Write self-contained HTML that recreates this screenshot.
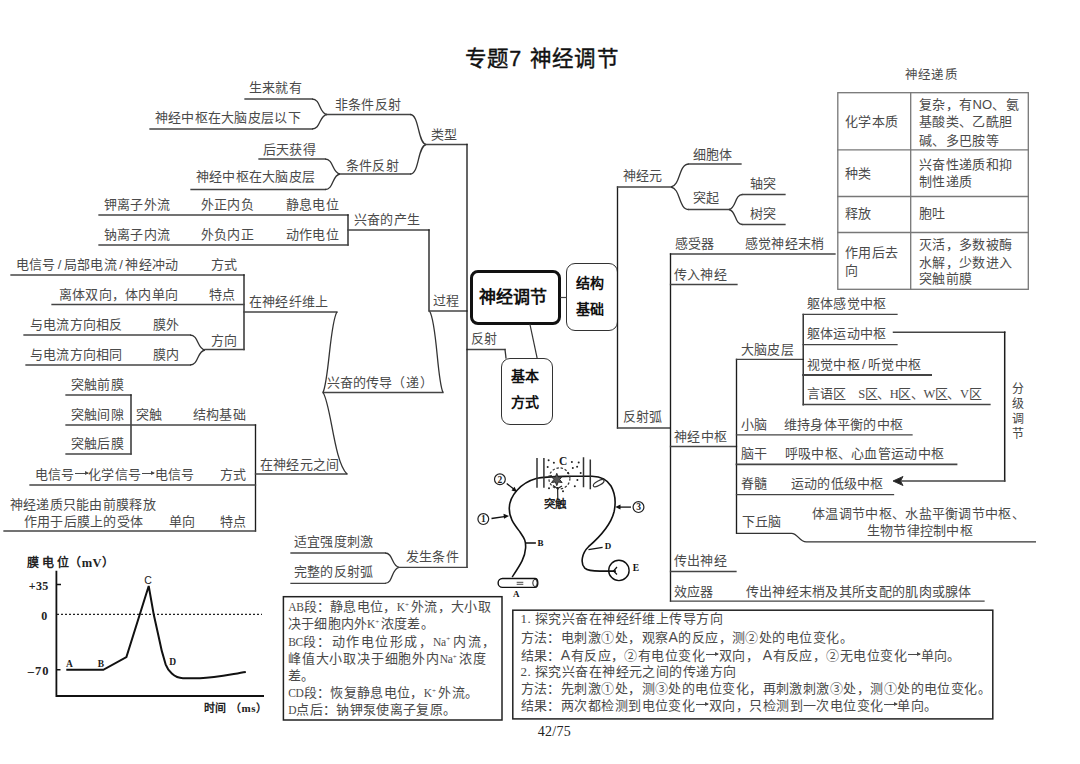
<!DOCTYPE html>
<html lang="zh-CN"><head><meta charset="utf-8"><title>专题7 神经调节</title>
<style>
html,body{margin:0;padding:0;background:#fff}
body{width:1080px;height:764px;overflow:hidden;position:relative;font-family:"Liberation Sans",sans-serif;text-spacing-trim:space-all;font-kerning:none}
.t{position:absolute;white-space:nowrap;line-height:1;color:#4a4a4a;letter-spacing:0.3px}
.sl{margin:0 2.2px}
.sa{font-family:'Liberation Sans',sans-serif;font-weight:normal;font-size:14px}
.ar{display:inline-block;width:12.5px;height:1px;background:currentColor;position:relative;vertical-align:0.33em;margin:0 0.5px}
.ar:after{content:'';position:absolute;right:-1px;top:-2px;border-left:4.5px solid currentColor;border-top:2.5px solid transparent;border-bottom:2.5px solid transparent}
.t sup{font-size:0.55em;vertical-align:0;position:relative;top:-0.6em;margin-right:0.25em;margin-left:0.05em}
.ls{font-style:normal;font-family:'Liberation Serif',serif;font-size:12.5px}
.lt{font-style:normal;font-size:11.5px;letter-spacing:-0.3px}
svg{position:absolute;left:0;top:0}
.box{position:absolute;background:#fff;box-sizing:border-box}
.nb{position:absolute;box-sizing:border-box;font-weight:bold;color:#111;text-align:center}
</style></head><body>

<div class="box" style="left:470px;top:270px;width:91px;height:55px;border:3px solid #111;border-radius:8px"></div>
<div class="box" style="left:566px;top:263px;width:51.5px;height:68px;border:1.3px solid #333;border-radius:9px"></div>
<div class="box" style="left:501px;top:357.5px;width:52px;height:67px;border:1.3px solid #333;border-radius:9px"></div>
<svg width="1080" height="764" viewBox="0 0 1080 764"><line x1="245" y1="99" x2="312" y2="99" stroke="#444" stroke-width="1.3" stroke-linecap="square"/><path d="M312,99 C321.00,99 318.75,113.26 327,114.5" fill="none" stroke="#333" stroke-width="1.3" /><line x1="150" y1="129" x2="312" y2="129" stroke="#444" stroke-width="1.3" stroke-linecap="square"/><path d="M312,129 C321.00,129 318.75,115.66 327,114.5" fill="none" stroke="#333" stroke-width="1.3" /><line x1="327" y1="114.5" x2="410" y2="114.5" stroke="#444" stroke-width="1.3" stroke-linecap="square"/><path d="M410,114.5 C419.60,114.5 417.20,142.10 426,144.5" fill="none" stroke="#333" stroke-width="1.3" /><line x1="259" y1="159" x2="325" y2="159" stroke="#444" stroke-width="1.3" stroke-linecap="square"/><path d="M325,159 C334.00,159 331.75,172.80 340,174" fill="none" stroke="#333" stroke-width="1.3" /><line x1="191" y1="189.5" x2="325" y2="189.5" stroke="#444" stroke-width="1.3" stroke-linecap="square"/><path d="M325,189.5 C334.00,189.5 331.75,175.24 340,174" fill="none" stroke="#333" stroke-width="1.3" /><line x1="340" y1="174" x2="410" y2="174" stroke="#444" stroke-width="1.3" stroke-linecap="square"/><path d="M410,174 C419.60,174 417.20,146.86 426,144.5" fill="none" stroke="#333" stroke-width="1.3" /><line x1="426" y1="144.5" x2="467" y2="144.5" stroke="#444" stroke-width="1.3" stroke-linecap="square"/><line x1="99" y1="215" x2="348" y2="215" stroke="#444" stroke-width="1.3" stroke-linecap="square"/><line x1="348" y1="215" x2="348" y2="245" stroke="#1c1c1c" stroke-width="1.35" stroke-linecap="square"/><line x1="348" y1="245" x2="99" y2="245" stroke="#444" stroke-width="1.3" stroke-linecap="square"/><line x1="348" y1="230" x2="429" y2="230" stroke="#444" stroke-width="1.3" stroke-linecap="square"/><line x1="429" y1="230" x2="429" y2="311" stroke="#1c1c1c" stroke-width="1.35" stroke-linecap="square"/><line x1="11" y1="275" x2="244" y2="275" stroke="#444" stroke-width="1.3" stroke-linecap="square"/><line x1="244" y1="275" x2="244" y2="349.5" stroke="#1c1c1c" stroke-width="1.35" stroke-linecap="square"/><line x1="52" y1="304.5" x2="244" y2="304.5" stroke="#444" stroke-width="1.3" stroke-linecap="square"/><line x1="244" y1="312" x2="337" y2="312" stroke="#444" stroke-width="1.3" stroke-linecap="square"/><line x1="24" y1="335" x2="190" y2="335" stroke="#444" stroke-width="1.3" stroke-linecap="square"/><path d="M190,335 C199.00,335 196.75,348.80 205,350" fill="none" stroke="#333" stroke-width="1.3" /><line x1="26" y1="365" x2="190" y2="365" stroke="#444" stroke-width="1.3" stroke-linecap="square"/><path d="M190,365 C199.00,365 196.75,351.20 205,350" fill="none" stroke="#333" stroke-width="1.3" /><line x1="205" y1="349.5" x2="244" y2="349.5" stroke="#444" stroke-width="1.3" stroke-linecap="square"/><line x1="66" y1="395" x2="131" y2="395" stroke="#444" stroke-width="1.3" stroke-linecap="square"/><line x1="131" y1="395" x2="131" y2="454" stroke="#1c1c1c" stroke-width="1.35" stroke-linecap="square"/><line x1="131" y1="454" x2="66" y2="454" stroke="#444" stroke-width="1.3" stroke-linecap="square"/><line x1="66" y1="425" x2="255.5" y2="425" stroke="#444" stroke-width="1.3" stroke-linecap="square"/><line x1="255.5" y1="425" x2="255.5" y2="531" stroke="#1c1c1c" stroke-width="1.35" stroke-linecap="square"/><line x1="255.5" y1="531" x2="4" y2="531" stroke="#444" stroke-width="1.3" stroke-linecap="square"/><line x1="30" y1="485" x2="255.5" y2="485" stroke="#444" stroke-width="1.3" stroke-linecap="square"/><line x1="255.5" y1="474" x2="347" y2="474" stroke="#444" stroke-width="1.3" stroke-linecap="square"/><line x1="323" y1="392.5" x2="443" y2="392.5" stroke="#444" stroke-width="1.3" stroke-linecap="square"/><path d="M337,312 C330,322 329,380 323,392.5" fill="none" stroke="#333" stroke-width="1.3" /><path d="M323,392.5 C331,404 334,462 347,474" fill="none" stroke="#333" stroke-width="1.3" /><path d="M429.5,311 C437,322 437,380 443,392.5" fill="none" stroke="#333" stroke-width="1.3" /><line x1="429.5" y1="311" x2="467" y2="311" stroke="#444" stroke-width="1.3" stroke-linecap="square"/><line x1="467" y1="349.5" x2="505" y2="349.5" stroke="#444" stroke-width="1.3" stroke-linecap="square"/><line x1="505" y1="349.5" x2="506" y2="358" stroke="#333" stroke-width="1.3" stroke-linecap="square"/><line x1="467" y1="144.5" x2="467" y2="567.3" stroke="#1c1c1c" stroke-width="1.35" stroke-linecap="square"/><line x1="291" y1="553" x2="385" y2="553" stroke="#444" stroke-width="1.3" stroke-linecap="square"/><path d="M385,553 C393.40,553 391.30,566.16 399,567.3" fill="none" stroke="#333" stroke-width="1.3" /><line x1="291" y1="583.3" x2="385" y2="583.3" stroke="#444" stroke-width="1.3" stroke-linecap="square"/><path d="M385,583.3 C393.40,583.3 391.30,568.58 399,567.3" fill="none" stroke="#333" stroke-width="1.3" /><line x1="399" y1="567.3" x2="467" y2="567.3" stroke="#444" stroke-width="1.3" stroke-linecap="square"/><line x1="530" y1="324.5" x2="537" y2="357.5" stroke="#333" stroke-width="1.2" stroke-linecap="square"/><line x1="561" y1="297.5" x2="566" y2="297.5" stroke="#444" stroke-width="1.2" stroke-linecap="square"/><line x1="617.5" y1="187" x2="617.5" y2="428" stroke="#1c1c1c" stroke-width="1.35" stroke-linecap="square"/><line x1="617.5" y1="428" x2="670" y2="428" stroke="#444" stroke-width="1.3" stroke-linecap="square"/><line x1="617.5" y1="187" x2="671" y2="187" stroke="#444" stroke-width="1.3" stroke-linecap="square"/><path d="M689,164 C678.20,164 680.90,185.16 671,187" fill="none" stroke="#333" stroke-width="1.3" /><line x1="689" y1="164" x2="741" y2="164" stroke="#444" stroke-width="1.3" stroke-linecap="square"/><path d="M689,209.5 C678.20,209.5 680.90,188.80 671,187" fill="none" stroke="#333" stroke-width="1.3" /><line x1="689" y1="209.5" x2="729" y2="209.5" stroke="#444" stroke-width="1.3" stroke-linecap="square"/><path d="M742.5,194.5 C734.40,194.5 736.42,208.30 729,209.5" fill="none" stroke="#333" stroke-width="1.3" /><line x1="742.5" y1="194.5" x2="785" y2="194.5" stroke="#444" stroke-width="1.3" stroke-linecap="square"/><path d="M742.5,224.5 C734.40,224.5 736.42,210.70 729,209.5" fill="none" stroke="#333" stroke-width="1.3" /><line x1="742.5" y1="224.5" x2="785" y2="224.5" stroke="#444" stroke-width="1.3" stroke-linecap="square"/><line x1="670.5" y1="254" x2="835" y2="254" stroke="#444" stroke-width="1.3" stroke-linecap="square"/><line x1="670.5" y1="254" x2="670.5" y2="601" stroke="#1c1c1c" stroke-width="1.35" stroke-linecap="square"/><line x1="670.5" y1="284.5" x2="737" y2="284.5" stroke="#444" stroke-width="1.3" stroke-linecap="square"/><line x1="670.5" y1="446.5" x2="736.5" y2="446.5" stroke="#444" stroke-width="1.3" stroke-linecap="square"/><line x1="736.5" y1="359.4" x2="736.5" y2="533.3" stroke="#1c1c1c" stroke-width="1.35" stroke-linecap="square"/><line x1="736.5" y1="359.4" x2="803.2" y2="359.4" stroke="#444" stroke-width="1.3" stroke-linecap="square"/><line x1="803.2" y1="314.4" x2="803.2" y2="404.7" stroke="#1c1c1c" stroke-width="1.35" stroke-linecap="square"/><line x1="803.2" y1="314.4" x2="897" y2="314.4" stroke="#444" stroke-width="1.3" stroke-linecap="square"/><line x1="803.2" y1="344.6" x2="897" y2="344.6" stroke="#444" stroke-width="1.3" stroke-linecap="square"/><line x1="803.2" y1="375" x2="931" y2="375" stroke="#444" stroke-width="2" stroke-linecap="square"/><line x1="803.2" y1="404.5" x2="990" y2="404.5" stroke="#444" stroke-width="1.3" stroke-linecap="square"/><line x1="736.5" y1="434.8" x2="912" y2="434.8" stroke="#444" stroke-width="1.3" stroke-linecap="square"/><line x1="736.5" y1="464.4" x2="956.5" y2="464.4" stroke="#444" stroke-width="1.8" stroke-linecap="square"/><line x1="736.5" y1="494.6" x2="893.5" y2="494.6" stroke="#444" stroke-width="1.3" stroke-linecap="square"/><path d="M736.5,533.3 L791.5,533.3 C798,533.3 799,541.9 806.3,541.9 L1036,541.9" fill="none" stroke="#333" stroke-width="1.3" /><line x1="670.5" y1="571.5" x2="736" y2="571.5" stroke="#444" stroke-width="1.3" stroke-linecap="square"/><line x1="670.5" y1="601.2" x2="984" y2="601.2" stroke="#444" stroke-width="1.3" stroke-linecap="square"/><line x1="893.5" y1="332.2" x2="1004.7" y2="332.2" stroke="#444" stroke-width="1.5" stroke-linecap="square"/><line x1="1004.7" y1="332.2" x2="1004.7" y2="481" stroke="#1c1c1c" stroke-width="1.5" stroke-linecap="square"/><line x1="1004.7" y1="481" x2="895" y2="481" stroke="#444" stroke-width="1.5" stroke-linecap="square"/><path d="M893,481 L903,476.5 L900.5,481 L903,485.5 Z" fill="#222" stroke="#333" stroke-width="1" /><rect x="837.8" y="92.7" width="190.5" height="196.6" fill="none" stroke="#777" stroke-width="1.3"/><line x1="910.7" y1="92.7" x2="910.7" y2="289.3" stroke="#777" stroke-width="1.3" stroke-linecap="square"/><line x1="837.8" y1="149.8" x2="1028.3" y2="149.8" stroke="#777" stroke-width="1.3" stroke-linecap="square"/><line x1="837.8" y1="196.5" x2="1028.3" y2="196.5" stroke="#777" stroke-width="1.3" stroke-linecap="square"/><line x1="837.8" y1="232.5" x2="1028.3" y2="232.5" stroke="#777" stroke-width="1.3" stroke-linecap="square"/><rect x="283.4" y="596.7" width="218.6" height="123.3" fill="none" stroke="#222" stroke-width="1.5"/><rect x="512.8" y="610.2" width="480" height="108.7" fill="none" stroke="#222" stroke-width="1.5"/><path d="M56.4,570.7 L56.4,696 L264,696" fill="none" stroke="#111" stroke-width="1.8"/><path d="M56.4,584.6 L61,584.6 M56.4,669.8 L60.5,669.8" stroke="#111" stroke-width="1.5"/><path d="M57,614.4 L262,614.4" stroke="#222" stroke-width="1.1" stroke-dasharray="2,2"/><path d="M66.3,669.8 L103.3,669.8 L126.4,657 L148.7,586 L153.8,614.8 L158.5,636 C160,644 162,653 165.6,664.3 C168,670.5 174,678.2 183,678.2 L200,678.2 C215,678 230,674.5 245.8,672" fill="none" stroke="#111" stroke-width="2"/><path d="M512.2,577 C520,565 525,558 525.6,548 C526,540 524,538 520,532 C514,524 509,518 509.3,508 C509.5,496 520,483 537,478.3 C545,476.5 560,476.5 571,476.2 L591.9,476.2 C600,476.5 607,479 611,486 C615.5,494 616,503 614,512 C611,524 602,535 588.5,546.7 C582,553 580,563 584.8,568.1 C588,571 593,571.1 600,571.1 L615.9,571.1" fill="none" stroke="#111" stroke-width="1.6"/><path d="M537,457.9 L537,487.7 M543.9,457.9 L543.9,487.7 M583.5,457.3 L583.5,487.2 M590.3,459.4 L590.3,489.3" stroke="#333" stroke-width="1.5"/><circle cx="559.4" cy="478.4" r="10.5" fill="none" stroke="#333" stroke-width="1.2" stroke-dasharray="2.4,1.8"/><path d="M556.80,473.30 L558.25,476.99 L562.17,476.40 L559.70,479.50 L562.17,482.60 L558.25,482.01 L556.80,485.70 L555.35,482.01 L551.43,482.60 L553.90,479.50 L551.43,476.40 L555.35,476.99 Z" fill="#555" stroke="#222" stroke-width="0.9"/><path d="M557.6,487 L557.8,499 M553,485.5 L557.6,488.5 L562,486" fill="none" stroke="#222" stroke-width="1.2"/><circle cx="548.6" cy="460.2" r="1" fill="#222"/><circle cx="553.9" cy="462.8" r="1" fill="#222"/><circle cx="547.7" cy="467" r="1" fill="#222"/><circle cx="571.9" cy="462.1" r="1" fill="#222"/><circle cx="578.7" cy="462.5" r="1" fill="#222"/><circle cx="577.1" cy="466.7" r="1" fill="#222"/><circle cx="572.8" cy="468" r="1" fill="#222"/><circle cx="580.7" cy="472.9" r="1" fill="#222"/><circle cx="577.4" cy="480.1" r="1" fill="#222"/><circle cx="574.8" cy="486.3" r="1" fill="#222"/><circle cx="549" cy="488.3" r="1" fill="#222"/><circle cx="563" cy="491.2" r="1" fill="#222"/><circle cx="568" cy="473" r="1" fill="#222"/><circle cx="551" cy="476" r="1" fill="#222"/><ellipse cx="598.7" cy="483.2" rx="6" ry="2.2" transform="rotate(-30 598.7 483.2)" fill="none" stroke="#333" stroke-width="1.2"/><circle cx="499.9" cy="479.3" r="5.4" fill="none" stroke="#222" stroke-width="1.2"/><text x="499.9" y="482.6" font-size="9.5" text-anchor="middle" font-family="Liberation Serif" font-weight="bold" fill="#222">2</text><circle cx="483.3" cy="519.1" r="5.4" fill="none" stroke="#222" stroke-width="1.2"/><text x="483.3" y="522.4" font-size="9.5" text-anchor="middle" font-family="Liberation Serif" font-weight="bold" fill="#222">1</text><circle cx="638.5" cy="507.1" r="5.4" fill="none" stroke="#222" stroke-width="1.2"/><text x="638.5" y="510.40000000000003" font-size="9.5" text-anchor="middle" font-family="Liberation Serif" font-weight="bold" fill="#222">3</text><path d="M506.7,483.5 L515,490" stroke="#111" stroke-width="1.3"/><path d="M517,492 L511.5,490.5 L514.5,486.8 Z" fill="#111"/><path d="M491.5,518.5 L506,516.3" stroke="#111" stroke-width="1.3"/><path d="M509,516 L504,518.8 L503.5,513.8 Z" fill="#111"/><path d="M631,507.1 L618,507.1" stroke="#111" stroke-width="1.3"/><path d="M615.3,507.1 L620.5,504.6 L620.5,509.6 Z" fill="#111"/><path d="M525.6,543 L535.9,543 M588.5,549.6 L602.6,547.4" stroke="#111" stroke-width="1.3"/><circle cx="618.9" cy="570.4" r="10.2" fill="none" stroke="#111" stroke-width="1.4"/><path d="M617,567 L613.5,571 L617,574.5" fill="none" stroke="#111" stroke-width="1.2"/><path d="M502.5,578.5 L535,578.5 A2.8,4.45 0 0 1 535,587.4 L502.5,587.4 A4.4,4.45 0 0 1 502.5,578.5 Z" fill="#fff" stroke="#111" stroke-width="1.4"/><ellipse cx="535" cy="582.95" rx="2.2" ry="3.6" fill="none" stroke="#222" stroke-width="1"/><path d="M516.7,582.3 L523.3,582.3 M516.7,584.3 L523.3,584.3" stroke="#333" stroke-width="0.9"/></svg>
<div class="t" style="left:478.5px;top:288.5px;font-size:17px;font-weight:bold;color:#111">神经调节</div>
<div class="t" style="left:575.5px;top:275.5px;font-size:14px;font-weight:bold;color:#111">结构</div>
<div class="t" style="left:575.5px;top:302px;font-size:14px;font-weight:bold;color:#111">基础</div>
<div class="t" style="left:510.5px;top:368.5px;font-size:14px;font-weight:bold;color:#111">基本</div>
<div class="t" style="left:510.5px;top:394.5px;font-size:14px;font-weight:bold;color:#111">方式</div>
<div class="t" style="left:464.7px;top:49.2px;font-size:21.5px;font-weight:400;color:#111;-webkit-text-stroke:0.4px #111">专题7</div>
<div class="t" style="left:529.9px;top:49.2px;font-size:21.5px;font-weight:400;color:#111;-webkit-text-stroke:0.4px #111">神经调节</div>
<div class="t" style="left:248.7px;top:81.2px;font-size:13px;">生来就有</div>
<div class="t" style="left:154.7px;top:111.2px;font-size:13px;">神经中枢在大脑皮层以下</div>
<div class="t" style="left:334.7px;top:97.7px;font-size:13px;">非条件反射</div>
<div class="t" style="left:262.7px;top:142.7px;font-size:13px;">后天获得</div>
<div class="t" style="left:195.7px;top:169.7px;font-size:13px;">神经中枢在大脑皮层</div>
<div class="t" style="left:345.7px;top:158.7px;font-size:13px;">条件反射</div>
<div class="t" style="left:430.7px;top:127.7px;font-size:13px;">类型</div>
<div class="t" style="left:103.7px;top:197.7px;font-size:13px;">钾离子外流</div>
<div class="t" style="left:200.7px;top:197.7px;font-size:13px;">外正内负</div>
<div class="t" style="left:285.7px;top:197.7px;font-size:13px;">静息电位</div>
<div class="t" style="left:103.7px;top:227.7px;font-size:13px;">钠离子内流</div>
<div class="t" style="left:200.7px;top:227.7px;font-size:13px;">外负内正</div>
<div class="t" style="left:285.7px;top:227.7px;font-size:13px;">动作电位</div>
<div class="t" style="left:353.7px;top:212.7px;font-size:13px;">兴奋的产生</div>
<div class="t" style="left:15.7px;top:257.7px;font-size:13px;">电信号<span class=sl>/</span>局部电流<span class=sl>/</span>神经冲动</div>
<div class="t" style="left:210.7px;top:257.7px;font-size:13px;">方式</div>
<div class="t" style="left:58.7px;top:287.7px;font-size:13px;">离体双向，体内单向</div>
<div class="t" style="left:208.7px;top:287.7px;font-size:13px;">特点</div>
<div class="t" style="left:248.7px;top:295.2px;font-size:13px;">在神经纤维上</div>
<div class="t" style="left:29.7px;top:317.7px;font-size:13px;">与电流方向相反</div>
<div class="t" style="left:152.7px;top:317.7px;font-size:13px;">膜外</div>
<div class="t" style="left:29.7px;top:347.7px;font-size:13px;">与电流方向相同</div>
<div class="t" style="left:152.7px;top:347.7px;font-size:13px;">膜内</div>
<div class="t" style="left:210.7px;top:334.2px;font-size:13px;">方向</div>
<div class="t" style="left:70.7px;top:377.7px;font-size:13px;">突触前膜</div>
<div class="t" style="left:70.7px;top:407.7px;font-size:13px;">突触间隙</div>
<div class="t" style="left:135.7px;top:407.7px;font-size:13px;">突触</div>
<div class="t" style="left:192.7px;top:407.7px;font-size:13px;">结构基础</div>
<div class="t" style="left:70.7px;top:436.7px;font-size:13px;">突触后膜</div>
<div class="t" style="left:34.7px;top:467.7px;font-size:13px;">电信号<span class=ar></span>化学信号<span class=ar></span>电信号</div>
<div class="t" style="left:219.7px;top:467.7px;font-size:13px;">方式</div>
<div class="t" style="left:9.7px;top:497.7px;font-size:13px;">神经递质只能由前膜释放</div>
<div class="t" style="left:23.7px;top:515.2px;font-size:13px;">作用于后膜上的受体</div>
<div class="t" style="left:168.7px;top:515.2px;font-size:13px;">单向</div>
<div class="t" style="left:219.7px;top:515.2px;font-size:13px;">特点</div>
<div class="t" style="left:259.7px;top:458.2px;font-size:13px;">在神经元之间</div>
<div class="t" style="left:326.7px;top:375.7px;font-size:13px;letter-spacing:0.1px">兴奋的传导</div>
<div class="t" style="left:391.7px;top:375.7px;font-size:13px;letter-spacing:1.2px">（递）</div>
<div class="t" style="left:432.7px;top:294.2px;font-size:13px;">过程</div>
<div class="t" style="left:470.7px;top:331.7px;font-size:13px;">反射</div>
<div class="t" style="left:293.7px;top:535.2px;font-size:13px;">适宜强度刺激</div>
<div class="t" style="left:293.7px;top:565.2px;font-size:13px;">完整的反射弧</div>
<div class="t" style="left:405.7px;top:550.2px;font-size:13px;">发生条件</div>
<div class="t" style="left:622.7px;top:168.7px;font-size:13px;">神经元</div>
<div class="t" style="left:692.7px;top:147.7px;font-size:13px;">细胞体</div>
<div class="t" style="left:692.7px;top:191.2px;font-size:13px;">突起</div>
<div class="t" style="left:749.7px;top:176.7px;font-size:13px;">轴突</div>
<div class="t" style="left:749.7px;top:206.7px;font-size:13px;">树突</div>
<div class="t" style="left:674.7px;top:236.7px;font-size:13px;">感受器</div>
<div class="t" style="left:744.7px;top:236.7px;font-size:13px;">感觉神经末梢</div>
<div class="t" style="left:673.7px;top:267.7px;font-size:13px;">传入神经</div>
<div class="t" style="left:622.7px;top:410.2px;font-size:13px;">反射弧</div>
<div class="t" style="left:674.2px;top:430.2px;font-size:13px;">神经中枢</div>
<div class="t" style="left:740.7px;top:342.7px;font-size:13px;">大脑皮层</div>
<div class="t" style="left:806.7px;top:296.7px;font-size:13px;">躯体感觉中枢</div>
<div class="t" style="left:806.7px;top:327.2px;font-size:13px;">躯体运动中枢</div>
<div class="t" style="left:806.7px;top:358.2px;font-size:13px;">视觉中枢<span class=sl>/</span>听觉中枢</div>
<div class="t" style="left:806.7px;top:387.2px;font-size:13px;">言语区</div>
<div class="t" style="left:858.2px;top:387.2px;font-size:13px;letter-spacing:-0.45px"><i class=ls>S</i>区、<i class=ls>H</i>区、<i class=ls>W</i>区、<i class=ls>V</i>区</div>
<div class="t" style="left:740.7px;top:418.2px;font-size:13px;">小脑</div>
<div class="t" style="left:783.7px;top:418.2px;font-size:13px;">维持身体平衡的中枢</div>
<div class="t" style="left:740.7px;top:447.2px;font-size:13px;">脑干</div>
<div class="t" style="left:784.7px;top:447.2px;font-size:13px;">呼吸中枢、心血管运动中枢</div>
<div class="t" style="left:740.7px;top:477.2px;font-size:13px;">脊髓</div>
<div class="t" style="left:790.7px;top:477.2px;font-size:13px;">运动的低级中枢</div>
<div class="t" style="left:741.7px;top:514.7px;font-size:13px;">下丘脑</div>
<div class="t" style="left:812.2px;top:506.7px;font-size:13px;">体温调节中枢、水盐平衡调节中枢、</div>
<div class="t" style="left:866.7px;top:524.2px;font-size:13px;">生物节律控制中枢</div>
<div class="t" style="left:673.7px;top:553.7px;font-size:13px;">传出神经</div>
<div class="t" style="left:673.7px;top:584.7px;font-size:13px;">效应器</div>
<div class="t" style="left:745.7px;top:584.7px;font-size:13px;">传出神经末梢及其所支配的肌肉或腺体</div>
<div class="t" style="left:1011.7px;top:382.7px;font-size:12px;color:#444">分</div>
<div class="t" style="left:1011.7px;top:397.7px;font-size:12px;color:#444">级</div>
<div class="t" style="left:1011.7px;top:412.7px;font-size:12px;color:#444">调</div>
<div class="t" style="left:1011.7px;top:427.7px;font-size:12px;color:#444">节</div>
<div class="t" style="left:904.7px;top:69.0px;font-size:12.5px;">神经递质</div>
<div class="t" style="left:845.2px;top:115.2px;font-size:13px;">化学本质</div>
<div class="t" style="left:919.2px;top:97.7px;font-size:13px;">复杂，有NO、氨</div>
<div class="t" style="left:919.2px;top:115.2px;font-size:13px;">基酸类、乙酰胆</div>
<div class="t" style="left:919.2px;top:133.7px;font-size:13px;">碱、多巴胺等</div>
<div class="t" style="left:845.2px;top:166.7px;font-size:13px;">种类</div>
<div class="t" style="left:919.2px;top:158.2px;font-size:13px;">兴奋性递质和抑</div>
<div class="t" style="left:919.2px;top:174.7px;font-size:13px;">制性递质</div>
<div class="t" style="left:845.2px;top:207.2px;font-size:13px;">释放</div>
<div class="t" style="left:919.2px;top:207.2px;font-size:13px;">胞吐</div>
<div class="t" style="left:845.2px;top:246.2px;font-size:13px;">作用后去</div>
<div class="t" style="left:845.2px;top:263.7px;font-size:13px;">向</div>
<div class="t" style="left:919.2px;top:238.2px;font-size:13px;">灭活，多数被酶</div>
<div class="t" style="left:919.2px;top:255.7px;font-size:13px;">水解，少数进入</div>
<div class="t" style="left:919.2px;top:271.7px;font-size:13px;">突触前膜</div>
<div class="t" style="left:288.2px;top:600.2px;font-size:13px;font-family:'Liberation Serif',serif;letter-spacing:0.3px"><i class=lt>AB</i>段：静息电位，<i class=lt>K</i><sup>+</sup>外流，大小取</div>
<div class="t" style="left:288.2px;top:617.4px;font-size:13px;font-family:'Liberation Serif',serif;letter-spacing:0.12px">决于细胞内外<i class=lt>K</i><sup>+</sup>浓度差。</div>
<div class="t" style="left:288.2px;top:634.6px;font-size:13px;font-family:'Liberation Serif',serif;letter-spacing:1.45px"><i class=lt>BC</i>段：动作电位形成，<i class=lt>Na</i><sup>+</sup>内流，</div>
<div class="t" style="left:288.2px;top:651.8px;font-size:13px;font-family:'Liberation Serif',serif;letter-spacing:0.77px">峰值大小取决于细胞外内<i class=lt>Na</i><sup>+</sup>浓度</div>
<div class="t" style="left:288.2px;top:669.0px;font-size:13px;font-family:'Liberation Serif',serif;letter-spacing:0.3px">差。</div>
<div class="t" style="left:288.2px;top:686.2px;font-size:13px;font-family:'Liberation Serif',serif;letter-spacing:0.35px"><i class=lt>CD</i>段：恢复静息电位，<i class=lt>K</i><sup>+</sup>外流。</div>
<div class="t" style="left:288.2px;top:703.4px;font-size:13px;font-family:'Liberation Serif',serif;letter-spacing:0.35px"><i class=lt>D</i>点后：钠钾泵使离子复原。</div>
<div class="t" style="left:520.5px;top:612.4px;font-size:13px;font-family:'Liberation Serif',serif;letter-spacing:0.45px">1. 探究兴奋在神经纤维上传导方向</div>
<div class="t" style="left:520.5px;top:630.2px;font-size:13px;font-family:'Liberation Serif',serif;letter-spacing:0.45px">方法：电刺激①处，观察<b class=sa>A</b>的反应，测②处的电位变化。</div>
<div class="t" style="left:520.5px;top:647.5px;font-size:13px;font-family:'Liberation Serif',serif;letter-spacing:0.45px">结果：<b class=sa>A</b>有反应，②有电位变化<span class=ar></span>双向，&nbsp;<b class=sa>A</b>有反应，②无电位变化<span class=ar></span>单向。</div>
<div class="t" style="left:520.5px;top:664.8px;font-size:13px;font-family:'Liberation Serif',serif;letter-spacing:0.45px">2. 探究兴奋在神经元之间的传递方向</div>
<div class="t" style="left:520.5px;top:682.1px;font-size:13px;font-family:'Liberation Serif',serif;letter-spacing:0.45px">方法：先刺激①处，测③处的电位变化，再刺激刺激③处，测①处的电位变化。</div>
<div class="t" style="left:520.5px;top:698.6px;font-size:13px;font-family:'Liberation Serif',serif;letter-spacing:0.45px">结果：两次都检测到电位变化<span class=ar></span>双向，只检测到一次电位变化<span class=ar></span>单向。</div>
<div class="t" style="left:537.7px;top:725.2px;font-size:14px;font-family:'Liberation Serif',serif;color:#222">42/75</div>
<div class="t" style="left:26.7px;top:556.8px;font-size:12px;font-weight:bold;color:#222;letter-spacing:0.5px">膜<span style="margin-left:3px"></span>电<span style="margin-left:2px"></span>位（<span style="font-family:Liberation Serif;font-size:12.5px">mV</span>）</div>
<div class="t" style="left:28.7px;top:579.7px;font-size:12px;font-family:'Liberation Serif',serif;font-weight:bold;color:#222;letter-spacing:0.4px">+35</div>
<div class="t" style="left:41.2px;top:609.7px;font-size:12px;font-family:'Liberation Serif',serif;font-weight:bold;color:#222">0</div>
<div class="t" style="left:27.7px;top:665.2px;font-size:12.5px;font-family:'Liberation Serif',serif;font-weight:bold;color:#222;letter-spacing:1px">–70</div>
<div class="t" style="left:144.2px;top:575.2px;font-size:10.5px;color:#222">C</div>
<div class="t" style="left:65.9px;top:660.0px;font-size:9.5px;font-family:'Liberation Serif',serif;font-weight:bold;color:#222">A</div>
<div class="t" style="left:97.7px;top:660.0px;font-size:9.5px;font-family:'Liberation Serif',serif;font-weight:bold;color:#222">B</div>
<div class="t" style="left:169.2px;top:657.7px;font-size:9.5px;font-family:'Liberation Serif',serif;font-weight:bold;color:#222">D</div>
<div class="t" style="left:203.7px;top:702.5px;font-size:11px;font-weight:bold;color:#222;letter-spacing:0.6px">时间<span style="margin-left:3px"></span>（<span style="font-family:Liberation Serif">ms</span>）</div>
<div class="t" style="left:558.9px;top:455.8px;font-size:11.5px;font-family:'Liberation Serif',serif;font-weight:bold;color:#222">C</div>
<div class="t" style="left:543.7px;top:498.7px;font-size:11.5px;font-weight:bold;color:#222">突触</div>
<div class="t" style="left:537.5px;top:538.5px;font-size:9px;font-family:'Liberation Serif',serif;font-weight:bold;color:#111">B</div>
<div class="t" style="left:604.7px;top:542.2px;font-size:9px;font-family:'Liberation Serif',serif;font-weight:bold;color:#111">D</div>
<div class="t" style="left:632.7px;top:564.2px;font-size:9.5px;font-family:'Liberation Serif',serif;font-weight:bold;color:#111">E</div>
<div class="t" style="left:513.0px;top:589.7px;font-size:9px;font-family:'Liberation Serif',serif;font-weight:bold;color:#111">A</div>
</body></html>
